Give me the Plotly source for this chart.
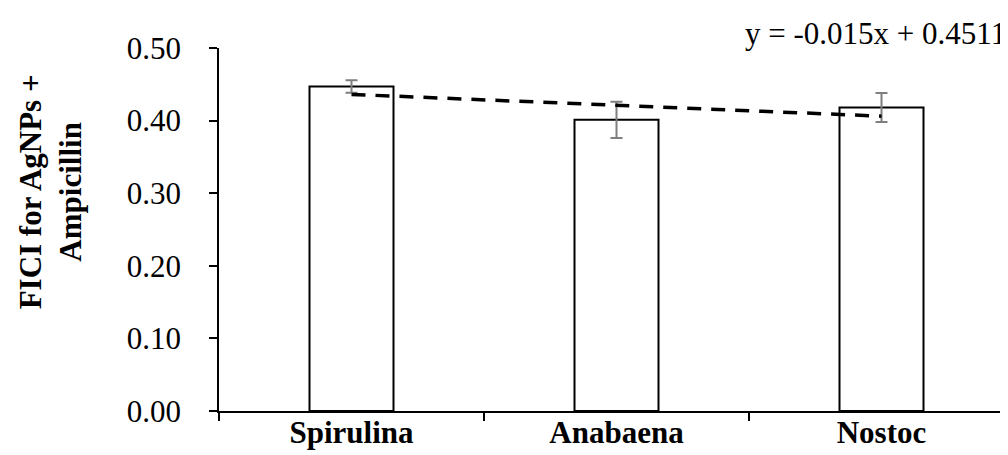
import plotly.graph_objects as go

categories = ["Spirulina", "Anabaena", "Nostoc"]
fici = [0.447, 0.401, 0.418]
errors = [0.0085, 0.025, 0.020]
trend_slope = -0.015
trend_intercept = 0.4511
y_ticks = [0.0, 0.1, 0.2, 0.3, 0.4, 0.5]

trend_y = [trend_slope * (i + 1) + trend_intercept for i in range(len(categories))]

FONT = "Liberation Serif, Times New Roman, serif"
FS = 31

fig = go.Figure()
fig.add_trace(go.Bar(
    x=categories, y=fici,
    marker=dict(color="white", line=dict(color="black", width=2)),
    error_y=dict(type="data", array=errors, visible=True, color="#7f7f7f", thickness=2, width=6),
    width=0.317, showlegend=False,
))
fig.add_trace(go.Scatter(
    x=categories, y=trend_y, mode="lines",
    line=dict(color="black", width=3.5, dash="14px,10px"), showlegend=False,
))
fig.add_annotation(
    text="y = -0.015x + 0.4511", xref="paper", yref="paper",
    x=0.992, y=1.041, xanchor="right", yanchor="middle",
    showarrow=False, font=dict(family=FONT, size=FS, color="black"),
)
fig.add_annotation(
    text="<b>FICI for AgNPs +</b><br><b>Ampicillin</b>", xref="paper", yref="paper",
    x=-0.2126, y=0.605, xanchor="center", yanchor="middle", textangle=-90,
    showarrow=False, font=dict(family=FONT, size=FS, color="black"),
)
fig.update_layout(
    width=1008, height=455,
    margin=dict(l=211, r=2, t=40, b=52),
    plot_bgcolor="white", paper_bgcolor="white",
    font=dict(family=FONT, color="black"),
)
fig.update_xaxes(
    type="category", range=[-0.5, 2.5],
    showline=True, linecolor="black", linewidth=1.5,
    ticks="outside", tickson="boundaries", ticklen=8, tickcolor="black", tickwidth=1.5,
    ticklabelstandoff=-7,
    tickfont=dict(family=FONT, size=FS, color="black", weight="bold"),
    showgrid=False,
)
fig.update_yaxes(
    range=[0, 0.5], tickvals=y_ticks, ticktext=[f"{v:.2f}" for v in y_ticks],
    showline=True, linecolor="black", linewidth=1.5,
    ticks="outside", ticklen=8, tickcolor="black", tickwidth=1.5,
    ticklabelstandoff=22,
    tickfont=dict(family=FONT, size=FS, color="black"),
    showgrid=False, zeroline=False,
)
fig.write_html("out.html")
